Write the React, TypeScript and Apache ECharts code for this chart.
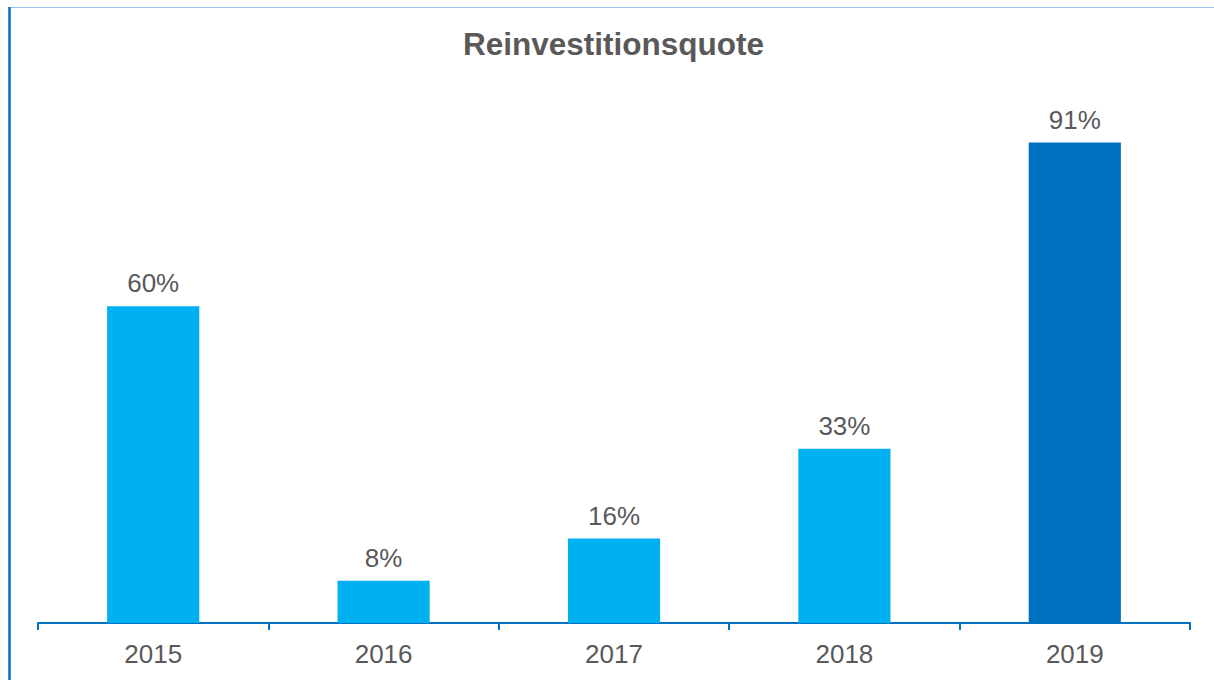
import React, { useEffect, useRef } from "react";
import * as echarts from "echarts";

const categories = ["2015", "2016", "2017", "2018", "2019"];
const values = [60, 8, 16, 33, 91];
const barColors = ["#00B0F0", "#00B0F0", "#00B0F0", "#00B0F0", "#0070C0"];
const titleText = "Reinvestitionsquote";

export default function App() {
  const ref = useRef<HTMLDivElement>(null);
  useEffect(() => {
    const chart = echarts.init(ref.current!, null, { renderer: "svg" });
    chart.setOption({
      animation: false,
      backgroundColor: "#ffffff",
      title: {
        text: titleText,
        left: 458,
        top: 23,
        textStyle: {
          fontFamily: "Liberation Sans, Arial, sans-serif",
          fontSize: 31.5,
          fontWeight: "bold",
          color: "#595959",
        },
      },
      grid: { left: 38, right: 24, top: 95, bottom: 57 },
      xAxis: {
        type: "category",
        data: categories,
        axisLine: { lineStyle: { color: "#0070C0", width: 2 } },
        axisTick: { show: true, length: 7, lineStyle: { color: "#0070C0", width: 2 } },
        axisLabel: {
          margin: 18,
          fontFamily: "Liberation Sans, Arial, sans-serif",
          fontSize: 26,
          color: "#595959",
        },
      },
      yAxis: {
        type: "value",
        min: 0,
        max: 100,
        show: false,
        splitLine: { show: false },
      },
      series: [
        {
          type: "bar",
          barWidth: "40%",
          data: values.map((v, i) => ({ value: v, itemStyle: { color: barColors[i] } })),
          label: {
            show: true,
            position: "top",
            distance: 10,
            formatter: "{c}%",
            fontFamily: "Liberation Sans, Arial, sans-serif",
            fontSize: 26,
            color: "#595959",
          },
        },
      ],
      graphic: [
        {
          type: "line",
          shape: { x1: 8, y1: 7.5, x2: 1214, y2: 7.5 },
          style: { stroke: "#9DC3E6", lineWidth: 1 },
        },
        {
          type: "line",
          shape: { x1: 9.5, y1: 7, x2: 9.5, y2: 680 },
          style: { stroke: "#0070C0", lineWidth: 2.5 },
        },
      ],
    });
    return () => chart.dispose();
  }, []);
  return (
    <div
      ref={ref}
      style={{ position: "fixed", left: 0, top: 0, width: 1214, height: 680 }}
    />
  );
}
